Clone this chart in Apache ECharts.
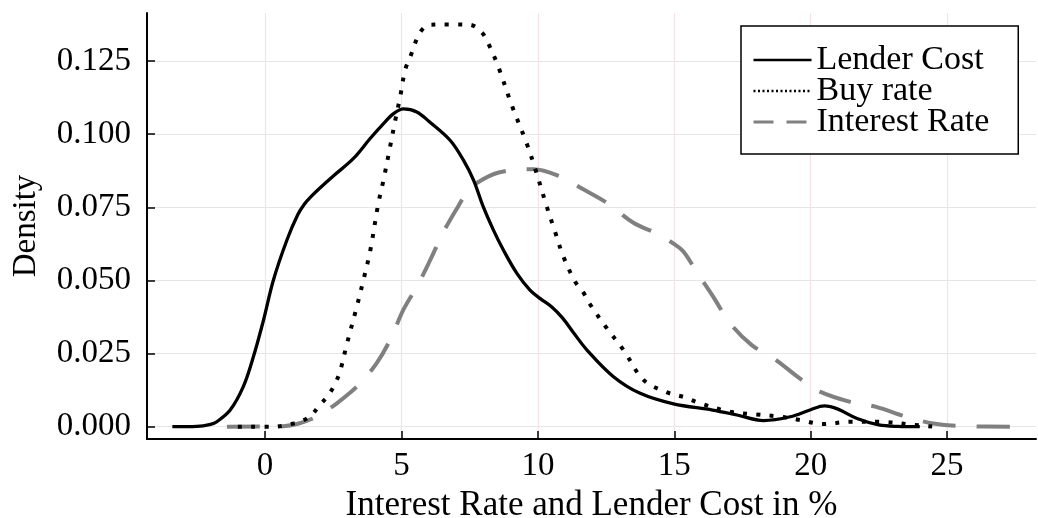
<!DOCTYPE html>
<html>
<head>
<meta charset="utf-8">
<script src="https://cdn.jsdelivr.net/npm/echarts@6/dist/echarts.min.js"></script>
<style>
html,body{margin:0;padding:0;background:#fff;}
#chart{width:1038px;height:518px;}
</style>
</head>
<body>
<div id="chart"></div>
<script>
const seriesNames = ['Lender Cost', 'Buy rate', 'Interest Rate'];
const xTicks = [0, 5, 10, 15, 20, 25];
const yTicks = [0, 0.025, 0.05, 0.075, 0.1, 0.125];

const lenderX = [-3.4, -2.5, -2.0, -1.77, -1.28, -0.8, -0.43, -0.06, 0.3, 0.8, 1.2, 1.45, 1.7, 2.0, 2.5, 3.24, 3.85, 4.34, 4.71, 5.07, 5.56, 6.0, 6.78, 7.27, 7.64, 8.0, 8.37, 8.74, 9.23, 9.71, 10.1, 10.5, 10.9, 11.3, 11.8, 12.77, 13.75, 14.97, 16.4, 17.3, 18.27, 19.25, 20.0, 20.5, 21.0, 21.7, 22.5, 23.2, 24.0];
const lenderY = [0, 0.0001, 0.0008, 0.0017, 0.0057, 0.0137, 0.0239, 0.0364, 0.050, 0.0638, 0.0725, 0.0762, 0.0788, 0.0815, 0.0857, 0.0917, 0.0985, 0.1036, 0.107, 0.1086, 0.1076, 0.1044, 0.0979, 0.0911, 0.0843, 0.0751, 0.0672, 0.0603, 0.0524, 0.0467, 0.0437, 0.041, 0.0372, 0.0322, 0.0262, 0.0171, 0.0114, 0.0078, 0.0057, 0.004, 0.0021, 0.0034, 0.0058, 0.0071, 0.006, 0.0028, 0.0006, 0.0001, 0];

const buyX = [-1.0, 0.3, 1.0, 1.3, 1.7, 2.0, 2.32, 2.57, 2.75, 2.99, 3.36, 3.6, 3.85, 4.15, 4.34, 4.58, 4.77, 4.95, 5.13, 5.32, 5.68, 6.05, 6.8, 7.5, 7.93, 8.18, 8.55, 9.04, 9.59, 9.9, 10.33, 10.63, 10.94, 11.37, 11.67, 11.9, 12.5, 13.14, 13.87, 14.72, 15.4, 15.95, 17.05, 18.0, 18.9, 19.6, 20.47, 21.45, 22.5, 23.8, 24.5];
const buyY = [0, 0, 0.001, 0.0017, 0.004, 0.0074, 0.0108, 0.0148, 0.019, 0.028, 0.041, 0.050, 0.060, 0.0763, 0.0843, 0.0956, 0.1047, 0.1127, 0.1218, 0.1264, 0.1347, 0.1374, 0.1375, 0.1374, 0.1349, 0.131, 0.123, 0.1099, 0.0968, 0.0882, 0.0751, 0.0666, 0.058, 0.0495, 0.0458, 0.042, 0.034, 0.0262, 0.016, 0.0118, 0.0100, 0.008, 0.0051, 0.0042, 0.0034, 0.0023, 0.0009, 0.0017, 0.0017, 0.0006, 0];

const rateX = [-1.4, 0.67, 1.2, 1.77, 2.2, 2.63, 3.1, 3.48, 4.09, 4.6, 5.07, 5.6, 6.05, 6.54, 7.03, 7.4, 7.76, 8.56, 9.84, 10.69, 11.73, 12.53, 13.5, 14.36, 14.97, 15.34, 15.82, 16.43, 17.05, 17.84, 18.64, 19.6, 20.34, 21.45, 22.4, 23.5, 24.5, 25.6, 27.7];
const rateY = [0, 0.0002, 0.001, 0.0029, 0.0052, 0.008, 0.0115, 0.0148, 0.0217, 0.030, 0.040, 0.0485, 0.0569, 0.0666, 0.0746, 0.080, 0.0833, 0.0869, 0.088, 0.086, 0.0808, 0.0765, 0.0697, 0.066, 0.0626, 0.0598, 0.0529, 0.0444, 0.0353, 0.0279, 0.0234, 0.0165, 0.012, 0.0085, 0.0068, 0.0034, 0.0011, 0.0002, 0];

function zip(xs, ys) { return xs.map((x, i) => [x, ys[i]]); }

const FONT = '"Liberation Serif", "DejaVu Serif", serif';
const chart = echarts.init(document.getElementById('chart'), null, { renderer: 'canvas' });

const hiddenSymbol = { color: 'rgba(0,0,0,0)', borderWidth: 0, opacity: 0 };

chart.setOption({
  animation: false,
  backgroundColor: '#ffffff',
  textStyle: { fontFamily: FONT, color: '#000' },
  grid: { left: 147, right: 2, top: 13, bottom: 79, containLabel: false, outerBoundsMode: 'none' },
  xAxis: {
    type: 'value',
    min: -4.33, max: 28.26,
    name: 'Interest Rate and Lender Cost in %',
    nameLocation: 'middle',
    nameGap: 42,
    nameTextStyle: { fontFamily: FONT, fontSize: 35, color: '#000' },
    axisLine: { show: true, onZero: false, lineStyle: { color: '#000', width: 2 } },
    axisTick: { show: true, inside: true, length: 8, customValues: xTicks, lineStyle: { color: '#000', width: 1.5 } },
    axisLabel: { customValues: xTicks, fontFamily: FONT, fontSize: 33, color: '#000', margin: 11 },
    splitLine: { show: true, lineStyle: { color: '#f3e3e6', width: 1.2 } }
  },
  yAxis: {
    type: 'value',
    min: -0.0042, max: 0.1414,
    name: 'Density',
    nameLocation: 'middle',
    nameGap: 104,
    nameRotate: 90,
    nameTextStyle: { fontFamily: FONT, fontSize: 33, color: '#000' },
    axisLine: { show: true, onZero: false, lineStyle: { color: '#000', width: 2 } },
    axisTick: { show: true, inside: true, length: 8, customValues: yTicks, lineStyle: { color: '#000', width: 1.5 } },
    axisLabel: { customValues: yTicks, fontFamily: FONT, fontSize: 33, color: '#000', margin: 16,
      formatter: v => v.toFixed(3) },
    splitLine: { show: true, lineStyle: { color: '#e6e6e6', width: 1.2 } }
  },
  legend: {
    orient: 'vertical',
    left: 741, top: 26,
    padding: [17, 29, 15, 11],
    itemGap: -3,
    itemWidth: 58,
    itemHeight: 14,
    itemTextGap: 18,
    borderColor: '#000',
    borderWidth: 1.5,
    backgroundColor: '#fff',
    borderRadius: 0,
    itemStyle: hiddenSymbol,
    textStyle: { fontFamily: FONT, fontSize: 34, color: '#000', lineHeight: 31 },
    data: [
      { name: seriesNames[0], itemStyle: hiddenSymbol, lineStyle: { color: '#000', width: 2.5, type: 'solid' } },
      { name: seriesNames[1], itemStyle: hiddenSymbol, lineStyle: { color: '#000', width: 2.5, type: [2, 2.5] } },
      { name: seriesNames[2], itemStyle: hiddenSymbol, lineStyle: { color: '#808080', width: 3, type: [20, 13] } }
    ]
  },
  series: [
    {
      name: seriesNames[0], type: 'line', data: zip(lenderX, lenderY),
      showSymbol: false, symbol: 'none', smooth: 0.35, z: 3,
      lineStyle: { color: '#000', width: 3.3, cap: 'butt' }, itemStyle: { color: '#000' }
    },
    {
      name: seriesNames[1], type: 'line', data: zip(buyX, buyY),
      showSymbol: false, symbol: 'none', smooth: 0.35, z: 4,
      lineStyle: { color: '#000', width: 4, type: [4, 9.3], cap: 'butt' }, itemStyle: { color: '#000' }
    },
    {
      name: seriesNames[2], type: 'line', data: zip(rateX, rateY),
      showSymbol: false, symbol: 'none', smooth: 0.35, z: 2,
      lineStyle: { color: '#808080', width: 4, type: [33, 21], cap: 'butt' }, itemStyle: { color: '#808080' }
    }
  ]
});
</script>
</body>
</html>
